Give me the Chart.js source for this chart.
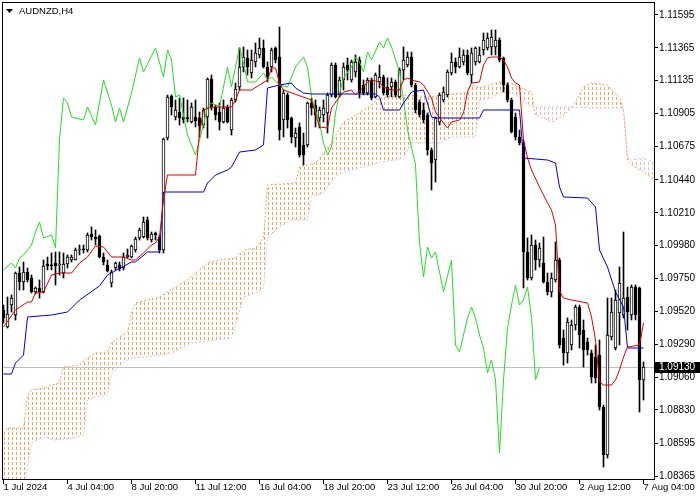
<!DOCTYPE html>
<html>
<head>
<meta charset="utf-8">
<title>AUDNZD,H4</title>
<script src="https://cdn.jsdelivr.net/npm/chart.js@4"></script>
<style>
  html, body { margin: 0; padding: 0; background: #fff; }
  canvas { display: block; }
</style>
</head>
<body>
<canvas id="chart" width="700" height="500"></canvas>
<script>
const symbolTitle = "AUDNZD,H4";
const lastPrice = 1.09130;

// H4 candles, one entry per bar (bar 0 = left edge)
const opens = [
  1.09530, 1.09411, 1.09565, 1.09495, 1.09789, 1.09726, 1.09796, 1.09754, 1.09656, 1.09684,
  1.09656, 1.09852, 1.09845, 1.09859, 1.09845, 1.09789, 1.09852, 1.09880, 1.09880, 1.09950,
  1.09957, 1.09950, 1.10062, 1.10041, 1.10048, 1.09901, 1.09845, 1.09719, 1.09824, 1.09845,
  1.09824, 1.09901, 1.09901, 1.09950, 1.10034, 1.10041, 1.10160, 1.10020, 1.10069, 1.10041,
  1.09950, 1.10734, 1.11028, 1.10881, 1.10916, 1.10881, 1.10874, 1.10846, 1.10881, 1.10874,
  1.10825, 1.10881, 1.11147, 1.10951, 1.10916, 1.10846, 1.10951, 1.10790, 1.11000, 1.11091,
  1.11231, 1.11294, 1.11189, 1.11266, 1.11315, 1.11364, 1.11231, 1.11231, 1.11364, 1.11301,
  1.10860, 1.11035, 1.10874, 1.10734, 1.10811, 1.10685, 1.10685, 1.10979, 1.10965, 1.10874,
  1.10895, 1.10909, 1.11035, 1.11245, 1.11035, 1.11140, 1.11245, 1.11140, 1.11196, 1.11280,
  1.11105, 1.11049, 1.11140, 1.11021, 1.11126, 1.11161, 1.11091, 1.11091, 1.11126, 1.11021,
  1.11210, 1.11245, 1.11301, 1.11105, 1.10986, 1.10930, 1.10895, 1.10650, 1.10580, 1.10846,
  1.11000, 1.11035, 1.11189, 1.11266, 1.11231, 1.11266, 1.11315, 1.11175, 1.11266, 1.11266,
  1.11350, 1.11364, 1.11371, 1.11371, 1.11420, 1.11294, 1.11105, 1.11000, 1.10881, 1.10741,
  1.10699, 1.09936, 1.09754, 1.09985, 1.09880, 1.09859, 1.09726, 1.09656, 1.09740, 1.09880,
  1.09334, 1.09229, 1.09285, 1.09425, 1.09551, 1.09390, 1.09306, 1.09229, 1.09201, 1.09215,
  1.08851, 1.08515, 1.09341, 1.09264, 1.09509, 1.09495, 1.09621, 1.09495, 1.09691, 1.09684,
  1.09040
];
const highs = [
  1.09565, 1.09621, 1.09635, 1.09796, 1.09831, 1.09866, 1.09824, 1.09775, 1.09691, 1.09740,
  1.09880, 1.09901, 1.09929, 1.09936, 1.09936, 1.09929, 1.09915, 1.09915, 1.09964, 1.09985,
  1.09985, 1.10069, 1.10111, 1.10090, 1.10055, 1.09929, 1.09880, 1.09810, 1.09866, 1.09866,
  1.09929, 1.09957, 1.09985, 1.10041, 1.10104, 1.10181, 1.10181, 1.10076, 1.10076, 1.10055,
  1.10734, 1.11035, 1.11035, 1.11000, 1.11014, 1.11014, 1.11000, 1.10979, 1.11000, 1.10916,
  1.10944, 1.11154, 1.11175, 1.10965, 1.10979, 1.11000, 1.10965, 1.11014, 1.11119, 1.11364,
  1.11371, 1.11350, 1.11350, 1.11399, 1.11434, 1.11420, 1.11266, 1.11364, 1.11371, 1.11511,
  1.11070, 1.11049, 1.10881, 1.10804, 1.10839, 1.10769, 1.10986, 1.11014, 1.11000, 1.10951,
  1.11000, 1.11049, 1.11259, 1.11259, 1.11161, 1.11259, 1.11294, 1.11280, 1.11315, 1.11301,
  1.11140, 1.11154, 1.11154, 1.11189, 1.11245, 1.11175, 1.11154, 1.11154, 1.11140, 1.11224,
  1.11371, 1.11336, 1.11336, 1.11119, 1.11000, 1.10979, 1.10909, 1.10664, 1.10881, 1.11049,
  1.11091, 1.11210, 1.11329, 1.11294, 1.11364, 1.11350, 1.11350, 1.11364, 1.11371, 1.11371,
  1.11469, 1.11469, 1.11490, 1.11490, 1.11434, 1.11301, 1.11119, 1.11014, 1.10909, 1.10790,
  1.10720, 1.10034, 1.10055, 1.10020, 1.09999, 1.10041, 1.09789, 1.09789, 1.10006, 1.09894,
  1.09390, 1.09474, 1.09460, 1.09565, 1.09565, 1.09460, 1.09334, 1.09250, 1.09285, 1.09320,
  1.08865, 1.09614, 1.09614, 1.09670, 1.09831, 1.10076, 1.09691, 1.09705, 1.09705, 1.09691,
  1.09166
];
const lows = [
  1.09439, 1.09404, 1.09516, 1.09460, 1.09670, 1.09670, 1.09726, 1.09649, 1.09642, 1.09614,
  1.09649, 1.09810, 1.09810, 1.09705, 1.09775, 1.09754, 1.09824, 1.09866, 1.09880, 1.09915,
  1.09929, 1.09936, 1.10020, 1.09985, 1.09894, 1.09845, 1.09796, 1.09691, 1.09810, 1.09803,
  1.09810, 1.09894, 1.09894, 1.09936, 1.10020, 1.10034, 1.10020, 1.10006, 1.10020, 1.09929,
  1.09929, 1.10720, 1.10895, 1.10860, 1.10825, 1.10839, 1.10846, 1.10839, 1.10811, 1.10741,
  1.10804, 1.10734, 1.10930, 1.10860, 1.10790, 1.10839, 1.10839, 1.10755, 1.10986, 1.11070,
  1.11196, 1.11175, 1.11154, 1.11231, 1.11294, 1.11224, 1.11126, 1.11196, 1.11259, 1.10720,
  1.10741, 1.10804, 1.10699, 1.10671, 1.10601, 1.10545, 1.10671, 1.10895, 1.10811, 1.10804,
  1.10846, 1.10769, 1.11021, 1.11014, 1.11021, 1.11070, 1.11140, 1.11126, 1.11161, 1.11014,
  1.11035, 1.11035, 1.11000, 1.11014, 1.11084, 1.11035, 1.11021, 1.11021, 1.11021, 1.11014,
  1.11140, 1.11231, 1.11091, 1.10909, 1.10881, 1.10839, 1.10615, 1.10370, 1.10426, 1.10825,
  1.10986, 1.11021, 1.11175, 1.11189, 1.11224, 1.11245, 1.11175, 1.11119, 1.11245, 1.11259,
  1.11315, 1.11350, 1.11315, 1.11315, 1.11266, 1.11056, 1.10986, 1.10769, 1.10720, 1.10685,
  1.09684, 1.09740, 1.09740, 1.09810, 1.09831, 1.09719, 1.09635, 1.09621, 1.09726, 1.09264,
  1.09145, 1.09159, 1.09250, 1.09390, 1.09264, 1.09131, 1.09215, 1.09019, 1.09019, 1.08830,
  1.08431, 1.08494, 1.09320, 1.09250, 1.09285, 1.09474, 1.09390, 1.09460, 1.09460, 1.08816,
  1.08900
];
const closes = [
  1.09474, 1.09502, 1.09614, 1.09789, 1.09726, 1.09796, 1.09740, 1.09656, 1.09684, 1.09656,
  1.09838, 1.09838, 1.09840, 1.09838, 1.09852, 1.09852, 1.09901, 1.09901, 1.09950, 1.09957,
  1.09952, 1.10055, 1.10041, 1.10027, 1.09901, 1.09866, 1.09803, 1.09796, 1.09859, 1.09817,
  1.09901, 1.09915, 1.09978, 1.10027, 1.10090, 1.10146, 1.10034, 1.10062, 1.10055, 1.09950,
  1.10727, 1.11021, 1.10951, 1.10930, 1.10874, 1.10860, 1.10870, 1.10951, 1.10853, 1.10818,
  1.10930, 1.11147, 1.10951, 1.10895, 1.10846, 1.10944, 1.10846, 1.11000, 1.11077, 1.11231,
  1.11301, 1.11231, 1.11280, 1.11329, 1.11364, 1.11231, 1.11161, 1.11350, 1.11280, 1.10790,
  1.11049, 1.10860, 1.10741, 1.10769, 1.10615, 1.10615, 1.10979, 1.10944, 1.10895, 1.10930,
  1.10944, 1.11035, 1.11245, 1.11021, 1.11140, 1.11231, 1.11210, 1.11266, 1.11266, 1.11049,
  1.11049, 1.11140, 1.11014, 1.11175, 1.11161, 1.11049, 1.11035, 1.11126, 1.11035, 1.11210,
  1.11280, 1.11301, 1.11105, 1.10930, 1.10895, 1.10860, 1.10650, 1.10559, 1.10874, 1.11035,
  1.11056, 1.11196, 1.11266, 1.11231, 1.11301, 1.11315, 1.11189, 1.11329, 1.11364, 1.11315,
  1.11420, 1.11434, 1.11441, 1.11420, 1.11280, 1.11105, 1.11000, 1.10776, 1.10741, 1.10699,
  1.09936, 1.09754, 1.09985, 1.09880, 1.09964, 1.09726, 1.09656, 1.09754, 1.09880, 1.09285,
  1.09229, 1.09446, 1.09425, 1.09551, 1.09355, 1.09250, 1.09250, 1.09061, 1.09054, 1.08851,
  1.08515, 1.09355, 1.09516, 1.09600, 1.09719, 1.09614, 1.09516, 1.09691, 1.09495, 1.09040,
  1.09130
];

// Ichimoku lines, read at their corners (bar index -> price)
const tenkanBars = [0, 3, 6, 7, 8, 10, 12, 14, 17, 19, 21, 23, 25, 27, 30, 32, 33, 35, 37, 38,
  39, 40, 41, 48, 49, 50, 52, 57, 58, 59, 62, 64, 66, 67, 68, 69, 70, 77, 79, 81,
  82, 84, 85, 87, 88, 90, 91, 92, 94, 95, 97, 99, 100, 101, 102, 104, 105, 107, 108, 110,
  111, 112, 114, 115, 116, 117, 119, 120, 121, 122, 124, 125, 126, 127, 128, 129, 130, 131, 132, 134,
  136, 137, 138, 139, 140, 142, 146, 147, 148, 149, 150, 152, 153, 154, 155, 156, 159, 160];
const tenkanValues = [1.09411, 1.09530, 1.09586, 1.09586, 1.09649, 1.09656, 1.09775, 1.09789, 1.09789, 1.09859,
  1.09901, 1.09978, 1.09971, 1.09901, 1.09901, 1.09880, 1.09880, 1.09929, 1.09985, 1.09999,
  1.10041, 1.10300, 1.10475, 1.10475, 1.10769, 1.10930, 1.10951, 1.10951, 1.11000, 1.11070,
  1.11070, 1.11105, 1.11140, 1.11224, 1.11224, 1.11119, 1.11070, 1.11000, 1.10811, 1.10804,
  1.10944, 1.11021, 1.11056, 1.11070, 1.11035, 1.11091, 1.11126, 1.11140, 1.11126, 1.11091,
  1.11070, 1.11070, 1.11140, 1.11154, 1.11140, 1.11126, 1.11105, 1.11014, 1.10916, 1.10839,
  1.10804, 1.10846, 1.10860, 1.10909, 1.11056, 1.11119, 1.11126, 1.11245, 1.11294, 1.11301,
  1.11301, 1.11280, 1.11231, 1.11154, 1.11119, 1.11105, 1.10720, 1.10594, 1.10510, 1.10391,
  1.10279, 1.10230, 1.10125, 1.09663, 1.09614, 1.09600, 1.09579, 1.09481, 1.09320, 1.09026,
  1.09005, 1.09005, 1.09040, 1.09110, 1.09201, 1.09271, 1.09285, 1.09439];

const kijunBars = [0, 2, 3, 5, 6, 12, 16, 19, 24, 26, 32, 33, 36, 39, 40, 50, 51, 53, 56, 57,
  59, 63, 65, 66, 69, 72, 73, 75, 77, 93, 94, 95, 99, 100, 102, 105, 107, 108, 119, 120,
  129, 130, 136, 138, 139, 140, 146, 148, 149, 151, 153, 155, 156, 160];
const kijunValues = [1.09082, 1.09082, 1.09159, 1.09215, 1.09481, 1.09495, 1.09516, 1.09600, 1.09698, 1.09775,
  1.09866, 1.09866, 1.09936, 1.09936, 1.10356, 1.10356, 1.10419, 1.10475, 1.10510, 1.10531,
  1.10636, 1.10650, 1.10685, 1.11084, 1.11105, 1.11119, 1.11084, 1.11049, 1.11042, 1.11042,
  1.11021, 1.10930, 1.10930, 1.10979, 1.11056, 1.11070, 1.10881, 1.10874, 1.10874, 1.10930,
  1.10930, 1.10594, 1.10580, 1.10559, 1.10391, 1.10321, 1.10314, 1.10251, 1.09950, 1.09831,
  1.09656, 1.09551, 1.09264, 1.09264];

const chikouBars = [0, 2, 3, 4, 5, 7, 8, 9, 10, 12, 13, 14, 15, 16, 17, 20, 21, 23, 25, 27,
  28, 29, 30, 32, 34, 35, 38, 40, 41, 42, 43, 44, 46, 48, 50, 51, 52, 54, 56, 57,
  59, 60, 61, 63, 65, 66, 67, 69, 71, 73, 75, 76, 77, 79, 80, 81, 82, 83, 84, 85,
  87, 88, 89, 90, 91, 92, 94, 95, 96, 97, 99, 100, 101, 102, 103, 104, 105, 106, 107, 108,
  110, 112, 113, 114, 115, 116, 117, 118, 119, 120, 121, 122, 123, 124, 125, 126, 127, 128, 129, 130,
  131, 132, 133, 134];
const chikouValues = [1.09810, 1.09859, 1.09824, 1.09894, 1.09915, 1.09985, 1.10076, 1.10146, 1.10034, 1.10055,
  1.09964, 1.10727, 1.11014, 1.10979, 1.10881, 1.10860, 1.10951, 1.10825, 1.11140, 1.10965,
  1.10846, 1.10944, 1.10846, 1.11049, 1.11294, 1.11196, 1.11364, 1.11161, 1.11350, 1.11280,
  1.11021, 1.11035, 1.10755, 1.10615, 1.10825, 1.10951, 1.10979, 1.10951, 1.11231, 1.11091,
  1.11371, 1.11259, 1.11126, 1.11126, 1.11189, 1.11140, 1.11161, 1.11105, 1.11091, 1.11231,
  1.11301, 1.11231, 1.11021, 1.10839, 1.10699, 1.10615, 1.10671, 1.10909, 1.11049, 1.11154,
  1.11231, 1.11301, 1.11266, 1.11196, 1.11336, 1.11280, 1.11406, 1.11364, 1.11434, 1.11371,
  1.11196, 1.11000, 1.10790, 1.10671, 1.10545, 1.09999, 1.09761, 1.09971, 1.09894, 1.09936,
  1.09656, 1.09880, 1.09285, 1.09236, 1.09355, 1.09474, 1.09551, 1.09474, 1.09355, 1.09264,
  1.09089, 1.09180, 1.09040, 1.08529, 1.09040, 1.09404, 1.09565, 1.09705, 1.09565, 1.09600,
  1.09691, 1.09481, 1.09040, 1.09130];

const spanABars = [0, 1, 5, 6, 7, 10, 12, 14, 15, 19, 21, 23, 26, 27, 29, 31, 32, 33, 36, 39,
  43, 46, 49, 51, 54, 58, 60, 63, 65, 66, 73, 74, 78, 82, 85, 89, 92, 93, 96, 100,
  107, 110, 115, 117, 119, 124, 127, 129, 132, 133, 135, 137, 139, 141, 142, 143, 145, 147, 151, 152,
  154, 155, 156, 157, 160, 163];
const spanAValues = [1.08669, 1.08704, 1.08704, 1.08935, 1.08970, 1.08984, 1.09005, 1.09019, 1.09131, 1.09145,
  1.09194, 1.09229, 1.09236, 1.09299, 1.09341, 1.09376, 1.09509, 1.09579, 1.09600, 1.09621,
  1.09691, 1.09740, 1.09810, 1.09859, 1.09880, 1.09894, 1.09950, 1.09964, 1.10034, 1.10405,
  1.10419, 1.10531, 1.10559, 1.10699, 1.10846, 1.10909, 1.10965, 1.11000, 1.11021, 1.11035,
  1.11021, 1.11035, 1.11049, 1.11105, 1.11084, 1.11126, 1.11119, 1.11091, 1.11056, 1.10895,
  1.10874, 1.10846, 1.10874, 1.10916, 1.10944, 1.10986, 1.11091, 1.11119, 1.11105, 1.11070,
  1.11021, 1.10930, 1.10580, 1.10545, 1.10496, 1.10440];

const spanBBars = [0, 5, 7, 10, 13, 18, 20, 21, 23, 26, 27, 30, 32, 36, 42, 47, 57, 58, 60, 63,
  65, 66, 69, 72, 76, 77, 80, 81, 83, 85, 89, 92, 94, 98, 100, 102, 109, 112, 118, 119,
  122, 124, 127, 129, 132, 142, 147, 155, 156, 157, 160, 161, 163];
const spanBValues = [1.08270, 1.08270, 1.08599, 1.08641, 1.08620, 1.08634, 1.08655, 1.08900, 1.08921, 1.08935,
  1.09089, 1.09166, 1.09194, 1.09201, 1.09229, 1.09299, 1.09334, 1.09425, 1.09621, 1.09649,
  1.09684, 1.10034, 1.10111, 1.10160, 1.10160, 1.10321, 1.10349, 1.10391, 1.10461, 1.10496,
  1.10524, 1.10545, 1.10566, 1.10580, 1.10594, 1.10699, 1.10699, 1.10741, 1.10741, 1.11000,
  1.11014, 1.11056, 1.11049, 1.11014, 1.10951, 1.10951, 1.10944, 1.10944, 1.10601, 1.10580,
  1.10594, 1.10580, 1.10559];

// axis labels
const xTickBars = [0, 16, 32, 48, 64, 80, 96, 112, 128, 144, 160];
const xTickLabels = ["1 Jul 2024", "4 Jul 04:00", "8 Jul 20:00", "11 Jul 12:00", "16 Jul 04:00", "18 Jul 20:00",
  "23 Jul 12:00", "26 Jul 04:00", "30 Jul 20:00", "2 Aug 12:00", "7 Aug 04:00"];
const yTickValues = [1.08365, 1.08595, 1.08830, 1.09060, 1.09290, 1.09520, 1.09750, 1.09980,
  1.10210, 1.10440, 1.10675, 1.10905, 1.11135, 1.11365, 1.11595];

const FONT = '"Liberation Sans", Arial, sans-serif';
Chart.defaults.font.family = FONT;
Chart.defaults.font.size = 9.5;
Chart.defaults.color = "#000";

const SANDY = "rgb(244,164,96)";
const THISTLE = "rgb(216,191,216)";

function points(bars, values) {
    return bars.map((b, i) => ({ x: b, y: values[i] }));
}

const barIdx = opens.map((o, i) => i);
const wickData = barIdx.map(i => ({ x: i, y: [lows[i], highs[i]] }));
const bodyData = barIdx.map(i => ({ x: i, y: [opens[i], closes[i]] }));
const bodyColors = barIdx.map(i => closes[i] >= opens[i] ? "#ffffff" : "#000000");

const lineBase = { type: "line", borderWidth: 1, pointRadius: 0, tension: 0, fill: false };

// short vertical dashes every 4px, like the MT4 cloud histogram
function hatchColumns(ctx, a, color) {
    ctx.fillStyle = color;
    for (let x = 4; x < a.right; x += 4) {
        for (let y = Math.floor(a.top); y < a.bottom; y += 5) {
            ctx.fillRect(x, y, 1, 3);
        }
    }
}

// cloud between span A (dataset 0) and span B (dataset 1)
const cloud = {
    id: "cloud",
    beforeDatasetsDraw(chart) {
        const { ctx, chartArea: a } = chart;
        const pa = chart.getDatasetMeta(0).data;
        const pb = chart.getDatasetMeta(1).data;
        if (!pa.length || !pb.length) return;
        const first = pb[0], last = pb[pb.length - 1];

        ctx.save();
        ctx.beginPath();
        ctx.rect(a.left, a.top, a.right - a.left, a.bottom - a.top);
        ctx.clip();
        ctx.beginPath();
        pa.forEach((p, k) => k ? ctx.lineTo(p.x, p.y) : ctx.moveTo(p.x, p.y));
        for (let k = pb.length - 1; k >= 0; k--) ctx.lineTo(pb[k].x, pb[k].y);
        ctx.closePath();
        ctx.clip();

        // A above B
        ctx.save();
        ctx.beginPath();
        pb.forEach((p, k) => k ? ctx.lineTo(p.x, p.y) : ctx.moveTo(p.x, p.y));
        ctx.lineTo(last.x, a.top - 10);
        ctx.lineTo(first.x, a.top - 10);
        ctx.closePath();
        ctx.clip();
        hatchColumns(ctx, a, SANDY);
        ctx.restore();

        // B above A
        ctx.save();
        ctx.beginPath();
        pb.forEach((p, k) => k ? ctx.lineTo(p.x, p.y) : ctx.moveTo(p.x, p.y));
        ctx.lineTo(last.x, a.bottom + 10);
        ctx.lineTo(first.x, a.bottom + 10);
        ctx.closePath();
        ctx.clip();
        hatchColumns(ctx, a, THISTLE);
        ctx.restore();

        ctx.restore();
    }
};

const decor = {
    id: "decor",
    beforeDatasetsDraw(chart) {
        const { ctx, chartArea: a, scales: { y } } = chart;
        const py = Math.round(y.getPixelForValue(lastPrice)) + 0.5;
        ctx.save();
        ctx.strokeStyle = "#c0c0c0";
        ctx.lineWidth = 1;
        ctx.beginPath();
        ctx.moveTo(a.left, py);
        ctx.lineTo(a.right, py);
        ctx.stroke();
        ctx.restore();
    },
    afterDraw(chart) {
        const { ctx, chartArea: a, scales: { y } } = chart;
        ctx.save();
        ctx.strokeStyle = "#000";
        ctx.lineWidth = 1;
        ctx.strokeRect(a.left + 0.5, a.top + 0.5, a.right - a.left, a.bottom - a.top);

        // symbol title
        ctx.fillStyle = "#000";
        ctx.beginPath();
        ctx.moveTo(6, 9);
        ctx.lineTo(13, 9);
        ctx.lineTo(9.5, 13);
        ctx.closePath();
        ctx.fill();
        ctx.font = "9.5px " + FONT;
        ctx.textAlign = "left";
        ctx.textBaseline = "alphabetic";
        ctx.fillText(symbolTitle, 19, 14);

        // current price tag
        const py = Math.round(y.getPixelForValue(lastPrice));
        ctx.fillRect(a.right + 1, py - 5, 46, 11);
        ctx.fillStyle = "#fff";
        ctx.font = "10px " + FONT;
        ctx.textBaseline = "middle";
        ctx.fillText(lastPrice.toFixed(5), a.right + 5, py + 0.5);
        ctx.restore();
    }
};

new Chart(document.getElementById("chart"), {
    type: "bar",
    data: {
        datasets: [
            { ...lineBase, label: "Senkou Span A", data: points(spanABars, spanAValues), borderColor: SANDY, borderDash: [2, 2], order: 10 },
            { ...lineBase, label: "Senkou Span B", data: points(spanBBars, spanBValues), borderColor: THISTLE, borderDash: [2, 2], order: 9 },
            {
                type: "bar", label: "Wicks", data: wickData, backgroundColor: "#000", borderWidth: 0,
                barThickness: 1, maxBarThickness: 1, grouped: false, order: 6
            },
            {
                type: "bar", label: "Bodies", data: bodyData, backgroundColor: bodyColors, borderColor: "#000",
                borderWidth: 1, borderSkipped: false, barThickness: 3, maxBarThickness: 3, minBarLength: 1,
                grouped: false, order: 5
            },
            { ...lineBase, label: "Chikou Span", data: points(chikouBars, chikouValues), borderColor: "#22dd22", order: 3 },
            { ...lineBase, label: "Kijun-sen", data: points(kijunBars, kijunValues), borderColor: "#0000c8", order: 2 },
            { ...lineBase, label: "Tenkan-sen", data: points(tenkanBars, tenkanValues), borderColor: "#dd0000", order: 1 }
        ]
    },
    options: {
        responsive: false,
        devicePixelRatio: 1,
        animation: false,
        events: [],
        layout: { padding: { left: 2, top: 2, right: 0, bottom: 0 } },
        plugins: { legend: { display: false }, tooltip: { enabled: false } },
        scales: {
            x: {
                type: "linear", position: "bottom", min: -0.375, max: 162.625, bounds: "data", offset: false,
                grid: { drawOnChartArea: false, drawTicks: true, tickLength: 5, color: "#000", offset: false },
                border: { display: false },
                ticks: {
                    align: "start", padding: -2, maxRotation: 0, minRotation: 0, autoSkip: false,
                    callback: v => {
                        const k = xTickBars.indexOf(v);
                        return k >= 0 ? xTickLabels[k] : "";
                    }
                },
                afterBuildTicks: s => { s.ticks = xTickBars.map(v => ({ value: v })); },
                afterFit: s => { s.height = 21; s.paddingLeft = 0; s.paddingRight = 0; }
            },
            y: {
                type: "linear", position: "right", min: 1.08347, max: 1.11686, bounds: "data", beginAtZero: false,
                grid: { drawOnChartArea: false, drawTicks: true, tickLength: 4, color: "#000" },
                border: { display: false },
                ticks: { padding: 1, autoSkip: false, font: { size: 10 }, callback: v => v.toFixed(5) },
                afterBuildTicks: s => { s.ticks = yTickValues.map(v => ({ value: v })); },
                afterFit: s => { s.width = 46; s.paddingTop = 0; s.paddingBottom = 0; }
            }
        }
    },
    plugins: [cloud, decor]
});
</script>
</body>
</html>
